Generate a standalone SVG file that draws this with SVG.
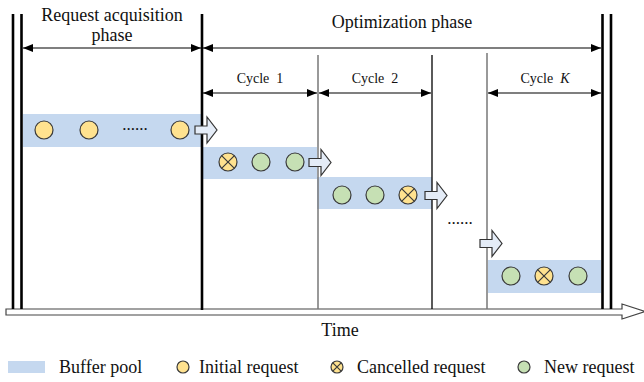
<svg xmlns="http://www.w3.org/2000/svg" width="644" height="382" viewBox="0 0 644 382">
<style>
text{font-family:"Liberation Serif","Times New Roman",serif;fill:#111}
.big{font-size:18px}
.cyc{font-size:14px}
.buf{fill:#C5D8EF}
.ini{fill:#FFE28F;stroke:#3a3a3a;stroke-width:1.2}
.new{fill:#C6E0B4;stroke:#3a3a3a;stroke-width:1.2}
.x{stroke:#3a3a3a;stroke-width:1.2}
.blk{fill:#E4ECF7;stroke:#333;stroke-width:1.2}
.thick{stroke:#000;stroke-width:2.6}
.dim{stroke:#000;stroke-width:1.2;fill:none}
</style>
<defs>
<marker id="ah" viewBox="0 0 10 8" refX="10" refY="4" markerWidth="10" markerHeight="8" markerUnits="userSpaceOnUse" orient="auto-start-reverse">
<path d="M0,0 L10,4 L0,8 Z" fill="#000"/>
</marker>
<path id="blk" d="M0,-4 H12 V-13 L22,0 L12,13 V4 H0 Z"/>
<g id="xc"><circle r="9" class="ini"/><path d="M-6.4,-6.4 L6.4,6.4 M-6.4,6.4 L6.4,-6.4" class="x"/></g>
</defs>

<g id="buffers">
<rect class="buf" x="23" y="114" width="179" height="33"/>
<rect class="buf" x="202" y="147" width="115" height="32"/>
<rect class="buf" x="317" y="177" width="115" height="32"/>
<rect class="buf" x="488" y="260" width="113" height="33"/>
</g>

<g id="time-axis">
<path d="M6,309 H622 V304 L645,311.5 L622,319 V315 H6 Z" fill="#fff" stroke="#444" stroke-width="1.2"/>
<text class="big" x="340" y="336" text-anchor="middle">Time</text>
</g>

<g id="phase-lines">
<line class="thick" x1="13" y1="14" x2="13" y2="309"/>
<line class="thick" x1="21.5" y1="14" x2="21.5" y2="309"/>
<line class="thick" x1="202" y1="14" x2="202" y2="310"/>
<line class="thick" x1="602.5" y1="14" x2="602.5" y2="309"/>
<line class="thick" x1="611" y1="14" x2="611" y2="309"/>
<line x1="318" y1="55" x2="318" y2="309" stroke="#777" stroke-width="1.5"/>
<line x1="432" y1="55" x2="432" y2="309" stroke="#000" stroke-width="1.3"/>
<line x1="487" y1="53" x2="487" y2="309" stroke="#777" stroke-width="1.5"/>
</g>

<g id="connectors">
<line class="dim" x1="23" y1="48" x2="201" y2="48" marker-start="url(#ah)" marker-end="url(#ah)"/>
<line class="dim" x1="203" y1="48" x2="601" y2="48" marker-start="url(#ah)" marker-end="url(#ah)"/>
<line class="dim" x1="203" y1="93" x2="317" y2="93" marker-start="url(#ah)" marker-end="url(#ah)"/>
<line class="dim" x1="319" y1="93" x2="431" y2="93" marker-start="url(#ah)" marker-end="url(#ah)"/>
<line class="dim" x1="488" y1="93" x2="601" y2="93" marker-start="url(#ah)" marker-end="url(#ah)"/>
</g>

<g id="labels">
<text class="big" x="112" y="21" text-anchor="middle">Request acquisition</text>
<text class="big" x="112" y="41" text-anchor="middle">phase</text>
<text class="big" x="402" y="28" text-anchor="middle">Optimization phase</text>
<text class="cyc" x="260" y="83" text-anchor="middle" xml:space="preserve">Cycle  1</text>
<text class="cyc" x="375" y="83" text-anchor="middle" xml:space="preserve">Cycle  2</text>
<text class="cyc" x="545" y="83" text-anchor="middle" xml:space="preserve">Cycle  <tspan font-style="italic">K</tspan></text>
</g>

<g id="row1">
<circle class="ini" cx="44" cy="130" r="9"/>
<circle class="ini" cx="89" cy="130" r="9"/>
<text x="135" y="130" text-anchor="middle" style="font-size:17px">......</text>
<circle class="ini" cx="180" cy="130" r="9"/>
<use href="#blk" class="blk" transform="translate(195,130)"/>
</g>

<g id="row2">
<use href="#xc" transform="translate(228,162)"/>
<circle class="new" cx="261" cy="162" r="9"/>
<circle class="new" cx="295" cy="162" r="9"/>
<use href="#blk" class="blk" transform="translate(309,162.5)"/>
</g>

<g id="row3">
<circle class="new" cx="342" cy="195" r="9"/>
<circle class="new" cx="375" cy="195" r="9"/>
<use href="#xc" transform="translate(408,195)"/>
<use href="#blk" class="blk" transform="translate(425,195.5)"/>
</g>

<g id="gap">
<text x="460" y="224" text-anchor="middle" style="font-size:17px">......</text>
<use href="#blk" class="blk" transform="translate(480,243.5)"/>
</g>

<g id="row4">
<circle class="new" cx="511" cy="276" r="9"/>
<use href="#xc" transform="translate(544,276)"/>
<circle class="new" cx="578" cy="276" r="9"/>
</g>

<g id="legend">
<rect class="buf" x="8" y="361" width="37" height="12"/>
<text class="big" x="59" y="373">Buffer pool</text>
<circle class="ini" cx="183" cy="367" r="6"/>
<text class="big" x="199" y="373">Initial request</text>
<g transform="translate(337,367)"><circle r="6" class="ini"/><path d="M-4.2,-4.2 L4.2,4.2 M-4.2,4.2 L4.2,-4.2" class="x"/></g>
<text class="big" x="357" y="373">Cancelled request</text>
<circle class="new" cx="524" cy="367" r="6"/>
<text class="big" x="544" y="373">New request</text>
</g>
</svg>
